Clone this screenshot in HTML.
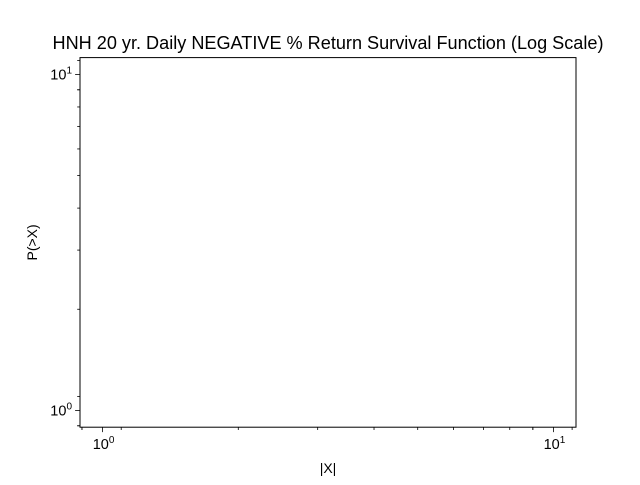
<!DOCTYPE html>
<html><head><meta charset="utf-8"><style>
body{margin:0;background:#fff}
svg text{font-family:"Liberation Sans","DejaVu Sans",sans-serif;fill:#000}
</style></head><body>
<svg id="chart" width="640" height="480" xmlns="http://www.w3.org/2000/svg">
<rect width="640" height="480" fill="#fff"/>
<g id="ticks"></g>
<rect x="80" y="57.6" width="496" height="369.6" fill="none" stroke="#000" stroke-width="1"/>
<text x="328" y="49" text-anchor="middle" font-size="18" textLength="551" lengthAdjust="spacingAndGlyphs">HNH 20 yr. Daily NEGATIVE % Return Survival Function (Log Scale)</text>
<text x="328" y="473" text-anchor="middle" font-size="14">|X|</text>
<text transform="translate(37,242.4) rotate(-90)" text-anchor="middle" font-size="14">P(&gt;X)</text>
</svg>
<script>
const xMajor=[1,10];
const yMajor=[1,10];
const minorMult=[0.9,2,3,4,5,6,7,8,9,11];
const xLim=[Math.pow(10,-0.05),Math.pow(10,1.05)];
const yLim=[Math.pow(10,-0.05),Math.pow(10,1.05)];
const L=80,R=576,T=57.6,B=427.2;
const NS="http://www.w3.org/2000/svg";
function xs(v){return L+(Math.log10(v)-Math.log10(xLim[0]))/(Math.log10(xLim[1])-Math.log10(xLim[0]))*(R-L);}
function ys(v){return B-(Math.log10(v)-Math.log10(yLim[0]))/(Math.log10(yLim[1])-Math.log10(yLim[0]))*(B-T);}
const g=document.getElementById('ticks');
function line(x1,y1,x2,y2,name){const l=document.createElementNS(NS,'line');l.setAttribute('x1',x1);l.setAttribute('y1',y1);l.setAttribute('x2',x2);l.setAttribute('y2',y2);l.setAttribute('stroke','#000');l.setAttribute('stroke-width','0.8');


g.appendChild(l);}
function label(x,y,exp,anchor,name){const t=document.createElementNS(NS,'text');t.setAttribute('x',x);t.setAttribute('y',y);t.setAttribute('text-anchor',anchor);t.setAttribute('font-size','14.5');


t.innerHTML='10<tspan font-size="10" dy="-6">'+exp+'</tspan>';g.appendChild(t);}
xMajor.forEach(v=>{const x=xs(v);line(x,B,x,B+4.9,'x-major-tick');label(x+1,B+22,Math.round(Math.log10(v)),'middle','x-tick-label');});
yMajor.forEach(v=>{const y=ys(v);line(L,y,L-4.9,y,'y-major-tick');label(L-8,y+5,Math.round(Math.log10(v)),'end','y-tick-label');});
[0.1,1,10].forEach(d=>minorMult.forEach(m=>{const v=d*m;
 if(v>xLim[0]&&v<xLim[1]&&Math.abs(Math.log10(v)%1)>1e-6){line(xs(v),B,xs(v),B+2.8,'x-minor-tick');}
 if(v>yLim[0]&&v<yLim[1]&&Math.abs(Math.log10(v)%1)>1e-6){line(L,ys(v),L-2.8,ys(v),'y-minor-tick');}
}));
</script>
</body></html>
